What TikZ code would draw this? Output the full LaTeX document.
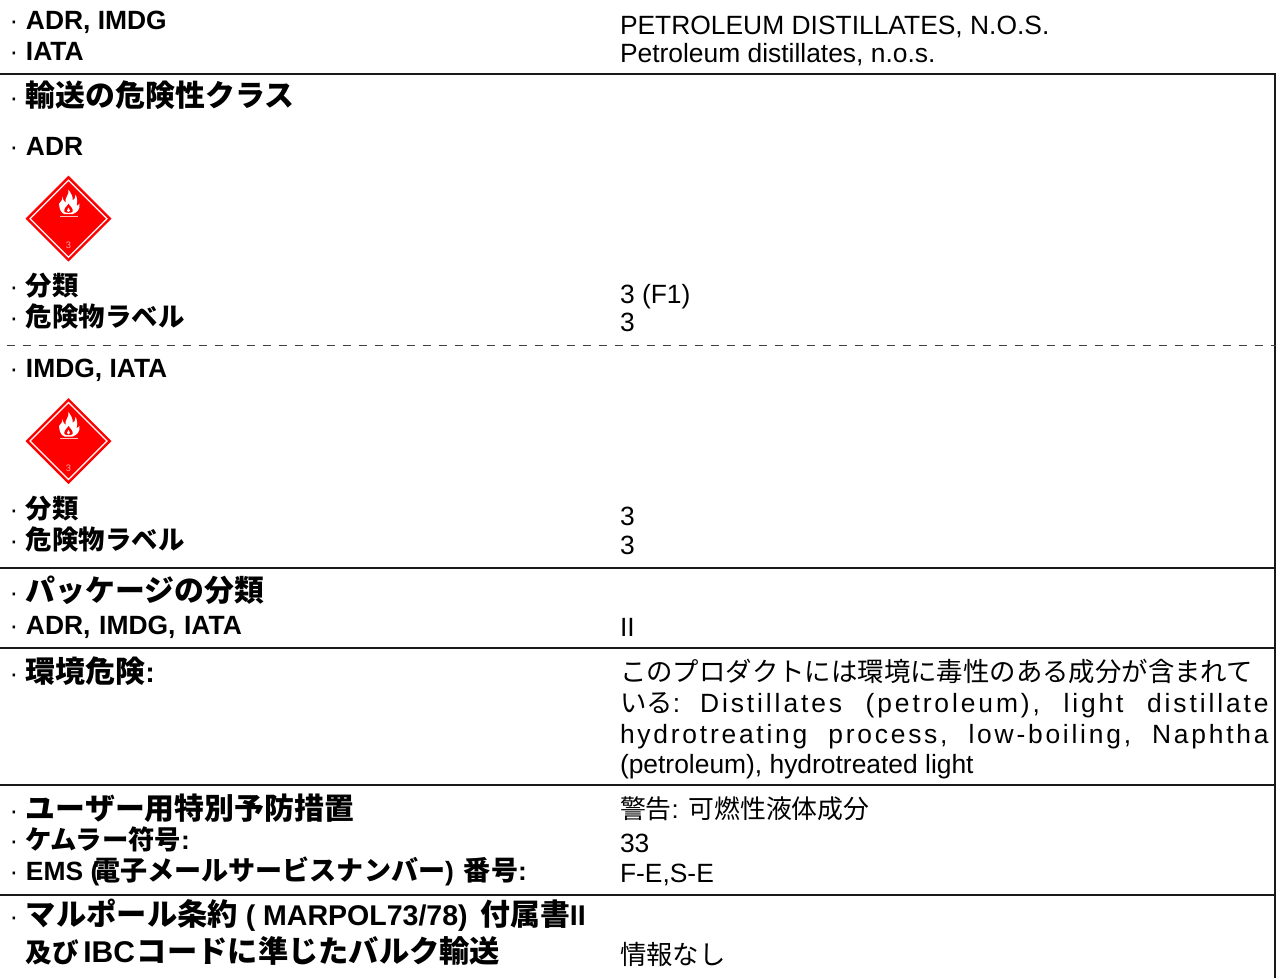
\documentclass[tikz,border=0pt]{standalone}
\usepackage{fontspec}
\setmainfont{Liberation Sans}
\newfontfamily\cjk{Noto Sans CJK JP}
\newcommand{\jp}[1]{{\cjk #1}}
\newcommand{\jb}[1]{{\cjk\bfseries #1}}
\newcommand{\jm}[1]{{\cjk\bfseries\fontsize{20.3pt}{24pt}\selectfont #1}}
\newcommand{\jh}[1]{{\cjk\bfseries\fontsize{22.4pt}{24pt}\selectfont #1}}
\newcommand{\jk}[1]{{\cjk\bfseries\fontsize{22.7pt}{24pt}\selectfont #1}}
\newcommand{\dt}{\llap{\mdseries\fontsize{19.5pt}{22pt}\selectfont ·\kern 5.7pt}}
\tikzset{
 lab/.style={anchor=base west,inner sep=0pt,outer sep=0pt,font=\bfseries\fontsize{19.8pt}{22pt}\selectfont},
 labb/.style={anchor=base west,inner sep=0pt,outer sep=0pt,font=\bfseries\fontsize{21.4pt}{24pt}\selectfont},
 val/.style={anchor=base west,inner sep=0pt,outer sep=0pt,font=\fontsize{19.8pt}{22pt}\selectfont},
 vals/.style={anchor=base west,inner sep=0pt,outer sep=0pt,font=\fontsize{19.4pt}{22pt}\selectfont},
 rulel/.style={line width=1.5pt,black!90},
}
\newcommand{\placard}[3]{%
 \begin{scope}[shift={(#2,#3)}]
  \fill[red] (0,-43)--(43,0)--(0,43)--(-43,0)--cycle;
  \draw[white,line width=0.9pt] (0,-38.5)--(38.5,0)--(0,38.5)--(-38.5,0)--cycle;
  \fill[white] (0,-29) .. controls (1,-24) and (-4,-21) .. (-3,-16) .. controls (-5,-18) and (-6,-20) .. (-6,-22) .. controls (-6,-18) and (-8,-17) .. (-9.5,-15) .. controls (-9,-10) and (-8,-6) .. (-4,-4.5) -- (4,-4.5) .. controls (8,-6) and (12,-9) .. (11,-15) .. controls (10,-14) and (9,-13) .. (8,-13) .. controls (9,-16) and (9,-21) .. (7,-24) .. controls (7,-21) and (6,-19) .. (4,-18) .. controls (5,-22) and (2,-26) .. (0,-29) -- cycle;
  \fill[red] (0,-15) .. controls (-2,-12) and (-5,-10) .. (-4,-7) .. controls (-3,-5.5) and (3,-5.5) .. (4,-7) .. controls (5,-10) and (2,-12) .. (0,-15) -- cycle;
  \fill[white] (0,-11) .. controls (-2,-9) and (-2,-7) .. (0,-6.5) .. controls (2,-7) and (2,-9) .. (0,-11) -- cycle;
  \fill[white!75!red] (-8.5,-2.9) rectangle (9,-1.9);
  \node[inner sep=0pt,text=white!65!red,font=\fontsize{7pt}{8pt}\selectfont] (#1n) at (0,27) {3};
 \end{scope}}
\begin{document}
\begin{tikzpicture}[x=0.75pt,y=-0.75pt]
\useasboundingbox (0,0) rectangle (1276,978);
\fill[white] (0,0) rectangle (1276,978);
\coordinate (l1) at (0,74); \coordinate (r1) at (1276,74);
\coordinate (l2) at (0,568); \coordinate (r2) at (1276,568);
\coordinate (l3) at (0,648); \coordinate (r3) at (1276,648);
\coordinate (l4) at (0,784.5); \coordinate (r4) at (1276,784.5);
\coordinate (l5) at (0,895); \coordinate (r5) at (1276,895);
\coordinate (d1) at (7,345.5); \coordinate (d2) at (1276,345.5);
\coordinate (bt) at (1275,74); \coordinate (bb) at (1275,978);
\foreach \n in {1,...,5} \draw[rulel] (l\n) -- (r\n);
\draw[rulel] (bt) -- (bb);
\draw[black!75,line width=0.9pt,dash pattern=on 6pt off 6pt] (d1) -- (d2);

\node[lab] (a1) at (26,29.5) {\dt ADR, IMDG};
\node[lab] (a2) at (26,60) {\dt IATA};
\node[val] (v1) at (620,34) {PETROLEUM DISTILLATES, N.O.S.};
\node[val] (v2) at (620,62) {Petroleum distillates, n.o.s.};
\node[lab] (a3) at (26,106) {\dt \jh{輸送の危険性クラス}};
\node[lab] (a4) at (26,155) {\dt ADR};
\placard{p1}{68.5}{218.7}
\node[lab] (a5) at (26,295) {\dt \jb{分類}};
\node[lab] (a6) at (26,326) {\dt \jb{危険物ラベル}};
\node[val] (v3) at (620,303) {3 (F1)};
\node[val] (v4) at (620,331) {3};
\node[lab] (a7) at (26,377) {\dt IMDG, IATA};
\placard{p2}{68.5}{441}
\node[lab] (a8) at (26,518) {\dt \jb{分類}};
\node[lab] (a9) at (26,549) {\dt \jb{危険物ラベル}};
\node[val] (v5) at (620,525) {3};
\node[val] (v6) at (620,554) {3};
\node[lab] (a10) at (26,601) {\dt \jh{パッケージの分類}};
\node[lab] (a11) at (26,634.5) {\dt ADR, \kern 1pt IMDG, \kern 1pt IATA};
\node[labb] (a12) at (26,682) {\dt \jh{環境危険}:};
\node[val] (v7) at (620,636) {II};
\node[val] (v8) at (620,681) {\jp{このプロダクトには環境に毒性のある成分が含まれて}};
\node[val] (v9) at (620,712) {\hbox to 486.5pt{\jp{いる}\addfontfeature{LetterSpace=11}:\kern 15pt Distillates\hfil (petroleum),\hfil light\hfil distillate}};
\node[val] (v10) at (620,743) {\hbox to 486.5pt{\addfontfeature{LetterSpace=10.5}hydrotreating\hfil process,\hfil low-boiling,\hfil Naphtha}};
\node[val] (v11) at (620,773) {(petroleum), hydrotreated light};
\node[lab] (a13) at (26,819) {\dt \jh{ユーザー用特別予防措置}};
\node[vals] (v12) at (620,818) {\jp{警告}: \jp{可燃性液体成分}};
\node[lab] (a14) at (26,849) {\dt \jb{ケムラー符号}:};
\node[val] (v13) at (620,852) {33};
\node[lab] (a15) at (26,880) {\dt EMS (\kern -4.5pt\jm{電子メールサービスナンバー}) \kern 2pt\jm{番号}:};
\node[val] (v14) at (620,882) {F-E,S-E};
\node[labb] (a16) at (26,925) {\dt \jk{マルポール条約} ( MARPOL73/78) \kern 3.5pt\jh{付属書}II};
\node[labb] (a17) at (26,962) {{\cjk\bfseries\fontsize{20pt}{24pt}\selectfont 及び}\kern 3pt{\fontsize{22.5pt}{24pt}\selectfont IBC}\kern 1.5pt\jk{コードに準じたバルク輸送}};
\node[val] (v15) at (620,964) {\jp{情報なし}};
\end{tikzpicture}
\end{document}
